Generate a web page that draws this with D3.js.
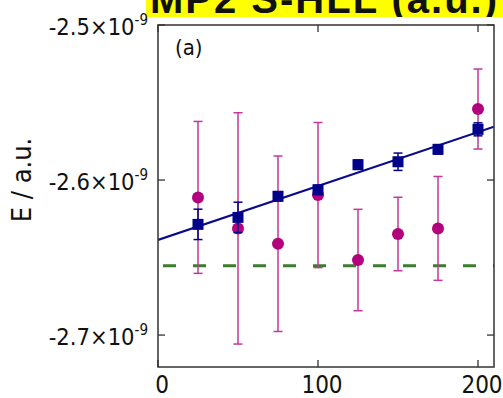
<!DOCTYPE html>
<html>
<head>
<meta charset="utf-8">
<script src="https://cdn.jsdelivr.net/npm/d3@7"></script>
<style>
  body { margin: 0; background: #fff; }
  svg { display: block; }
  text { font-family: "DejaVu Sans Condensed", "DejaVu Sans", sans-serif; fill: #111; }
</style>
</head>
<body>
<div id="chart"></div>
<script>
// data (E in a.u.)
const xs = [25, 50, 75, 100, 125, 150, 175, 200];
const blueE = [-2.6286e-9, -2.6241e-9, -2.6105e-9, -2.6063e-9, -2.5901e-9, -2.5882e-9, -2.5802e-9, -2.5673e-9];
const blueErr = [0.0098e-9, 0.0098e-9, 0.003e-9, 0.003e-9, 0.003e-9, 0.0056e-9, 0.003e-9, 0.0042e-9];
const magE = [-2.6112e-9, -2.6312e-9, -2.6411e-9, -2.6097e-9, -2.6516e-9, -2.6348e-9, -2.6312e-9, -2.5542e-9];
const magErr = [0.049e-9, 0.0746e-9, 0.0566e-9, 0.0468e-9, 0.0327e-9, 0.0237e-9, 0.0335e-9, 0.0258e-9];
const fitX = [0, 210];
const fitE = [-2.6387e-9, -2.5656e-9];
const refE = -2.6553e-9;
const xTicks = [0, 100, 200];
const yTicks = [-2.5e-9, -2.6e-9, -2.7e-9];
const yTickMant = ["-2.5", "-2.6", "-2.7"];

const W = 503, H = 398;
const margin = {top: 25, right: 9, bottom: 31, left: 158},
  width = W - margin.left - margin.right,
  height = H - margin.top - margin.bottom;

const svg = d3.select("#chart").append("svg")
  .attr("width", W).attr("height", H);

// cropped yellow title band at top
svg.append("rect").attr("x", 146).attr("y", 0).attr("width", W - 146).attr("height", 17)
  .attr("fill", "#ffff00");
svg.append("clipPath").attr("id", "bandclip")
  .append("rect").attr("x", 146).attr("y", 0).attr("width", W - 146).attr("height", 17);
svg.append("text").attr("clip-path", "url(#bandclip)")
  .attr("x", 150).attr("y", 13)
  .style("font-family", "'Liberation Sans', sans-serif")
  .style("font-weight", "bold").style("font-size", "40px")
  .style("letter-spacing", "2px")
  .text("MP2 S-HLL (a.u.)");

const g = svg.append("g").attr("transform", `translate(${margin.left}, ${margin.top})`);

const x = d3.scaleLinear().domain([0, 210]).range([0, width]);
const y = d3.scaleLinear().domain([-2.7206e-9, -2.5e-9]).range([height, 0]);

g.append("clipPath").attr("id", "plotclip")
  .append("rect").attr("width", width).attr("height", height);
const plot = g.append("g").attr("clip-path", "url(#plotclip)");

// green reference dashed line
plot.append("line")
  .attr("x1", x(0)).attr("x2", x(210))
  .attr("y1", y(refE)).attr("y2", y(refE))
  .attr("stroke", "#3b7d2e").attr("stroke-width", 3)
  .attr("stroke-dasharray", "13,17").attr("stroke-dashoffset", 25);

// magenta error bars + points
const mag = xs.map((v, i) => ({x: v, e: magE[i], err: magErr[i]}));
const magG = plot.append("g").attr("stroke", "#c4369f").attr("stroke-width", 1.5);
mag.forEach(d => {
  magG.append("line").attr("x1", x(d.x)).attr("x2", x(d.x))
    .attr("y1", y(d.e - d.err)).attr("y2", y(d.e + d.err));
  [d.e - d.err, d.e + d.err].forEach(v => {
    magG.append("line").attr("x1", x(d.x) - 4.5).attr("x2", x(d.x) + 4.5)
      .attr("y1", y(v)).attr("y2", y(v));
  });
});
plot.append("g").selectAll("circle").data(mag).join("circle")
  .attr("cx", d => x(d.x)).attr("cy", d => y(d.e)).attr("r", 6)
  .attr("fill", "#b3007d");

// blue fit line
plot.append("line")
  .attr("x1", x(fitX[0])).attr("x2", x(fitX[1]))
  .attr("y1", y(fitE[0])).attr("y2", y(fitE[1]))
  .attr("stroke", "#0a0a8c").attr("stroke-width", 2.2);

// blue squares + error bars
const blue = xs.map((v, i) => ({x: v, e: blueE[i], err: blueErr[i]}));
plot.append("g").selectAll("rect").data(blue).join("rect")
  .attr("x", d => x(d.x) - 5.5).attr("y", d => y(d.e) - 5.5)
  .attr("width", 11).attr("height", 11)
  .attr("fill", "#00008b");
const blueG = plot.append("g").attr("stroke", "#00008b").attr("stroke-width", 1.5);
blue.forEach(d => {
  blueG.append("line").attr("x1", x(d.x)).attr("x2", x(d.x))
    .attr("y1", y(d.e - d.err)).attr("y2", y(d.e + d.err));
  [d.e - d.err, d.e + d.err].forEach(v => {
    blueG.append("line").attr("x1", x(d.x) - 4.5).attr("x2", x(d.x) + 4.5)
      .attr("y1", y(v)).attr("y2", y(v));
  });
});

// frame and inward ticks
g.append("rect").attr("width", width).attr("height", height)
  .attr("fill", "none").attr("stroke", "#333").attr("stroke-width", 1.5);

const tickLen = 7;
const ax = g.append("g").attr("stroke", "#333").attr("stroke-width", 1.3);
xTicks.forEach(t => {
  ax.append("line").attr("x1", x(t)).attr("x2", x(t)).attr("y1", height).attr("y2", height - tickLen);
  ax.append("line").attr("x1", x(t)).attr("x2", x(t)).attr("y1", 0).attr("y2", tickLen);
});
yTicks.forEach(t => {
  ax.append("line").attr("x1", 0).attr("x2", tickLen).attr("y1", y(t)).attr("y2", y(t));
  ax.append("line").attr("x1", width).attr("x2", width - tickLen).attr("y1", y(t)).attr("y2", y(t));
});

// x tick labels
g.append("g").selectAll("text").data(xTicks).join("text")
  .attr("x", d => x(d) + 4).attr("y", height + 26)
  .attr("text-anchor", "middle")
  .style("font-size", "24px")
  .text(d => d);

// y tick labels with superscript exponent
yTicks.forEach((t, i) => {
  const tx = g.append("text")
    .attr("x", -10).attr("y", y(t) + 10)
    .attr("text-anchor", "end")
    .style("font-size", "23.5px");
  tx.append("tspan").text(yTickMant[i] + "\u00d710");
  tx.append("tspan").attr("dy", -10).style("font-size", "15px").text("-9");
});

// panel label
g.append("text").attr("x", 17).attr("y", 30).style("font-size", "22px").text("(a)");

// y axis title
svg.append("text")
  .attr("transform", "translate(31, 180) rotate(-90)")
  .attr("text-anchor", "middle")
  .style("font-size", "27px")
  .text("E / a.u.");
</script>
</body>
</html>
